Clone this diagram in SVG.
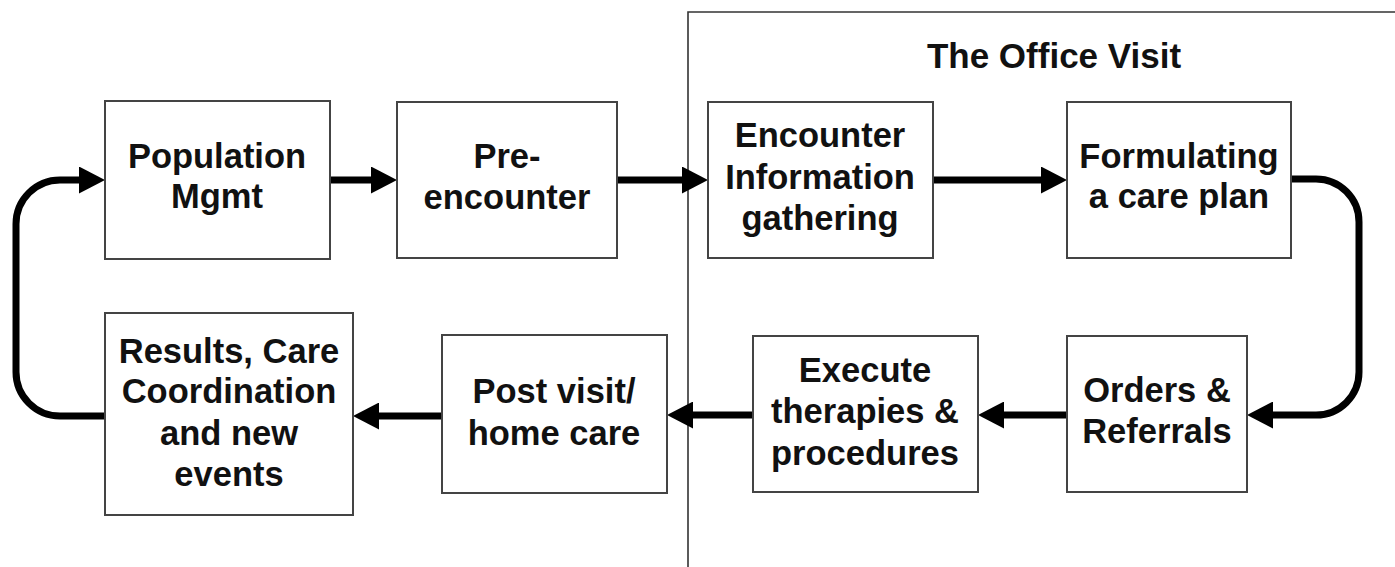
<svg xmlns="http://www.w3.org/2000/svg" width="1395" height="567" viewBox="0 0 1395 567">
  <style>
    .box { fill: #ffffff; stroke: #444444; stroke-width: 2; }
    .lbl { font-family: "Liberation Sans", Arial, sans-serif; font-weight: bold; font-size: 34.5px; fill: #111111; text-anchor: middle; }
    .ttl { font-size: 35px; }
    .conn { fill: none; stroke: #000000; stroke-width: 7; }
    .frame { fill: none; stroke: #333333; stroke-width: 1.6; }
  </style>
  <defs>
    <marker id="arr" viewBox="0 0 26 27" refX="6" refY="13.5" markerWidth="26" markerHeight="27" markerUnits="userSpaceOnUse" orient="auto">
      <path d="M0,0 L26,13.5 L0,27 Z" fill="#000000"/>
    </marker>
  </defs>
  <rect width="1395" height="567" fill="#ffffff"/>

  <g id="office-visit-frame">
    <path class="frame" d="M688,567 V12 H1400"/>
    <text class="lbl ttl" x="1054" y="68">The Office Visit</text>
  </g>

  <g id="connectors">
    <path class="conn" d="M330,180 H377" marker-end="url(#arr)"/>
    <path class="conn" d="M617,180 H688" marker-end="url(#arr)"/>
    <path class="conn" d="M933,180 H1047" marker-end="url(#arr)"/>
    <path class="conn" d="M1291,179 H1316 A43,43 0 0 1 1359,222 V372 A43,43 0 0 1 1316,415 H1267" marker-end="url(#arr)"/>
    <path class="conn" d="M1067,415 H998" marker-end="url(#arr)"/>
    <path class="conn" d="M753,415 H687" marker-end="url(#arr)"/>
    <path class="conn" d="M442,416 H373" marker-end="url(#arr)"/>
    <path class="conn" d="M105,416 H60 A44,44 0 0 1 16,372 V224 A44,44 0 0 1 60,180 H85" marker-end="url(#arr)"/>
  </g>

  <g id="population-mgmt">
    <rect class="box" x="105" y="101" width="225" height="158"/>
    <text class="lbl" x="217" y="168">Population</text>
    <text class="lbl" x="217" y="208">Mgmt</text>
  </g>

  <g id="pre-encounter">
    <rect class="box" x="397" y="102" width="220" height="156"/>
    <text class="lbl" x="507" y="168">Pre-</text>
    <text class="lbl" x="507" y="209">encounter</text>
  </g>

  <g id="encounter-info">
    <rect class="box" x="708" y="102" width="225" height="156"/>
    <text class="lbl" x="820" y="147">Encounter</text>
    <text class="lbl" x="820" y="189">Information</text>
    <text class="lbl" x="820" y="230">gathering</text>
  </g>

  <g id="formulating-plan">
    <rect class="box" x="1067" y="102" width="224" height="156"/>
    <text class="lbl" x="1179" y="168">Formulating</text>
    <text class="lbl" x="1179" y="208">a care plan</text>
  </g>

  <g id="orders-referrals">
    <rect class="box" x="1067" y="336" width="180" height="156"/>
    <text class="lbl" x="1157" y="402">Orders &amp;</text>
    <text class="lbl" x="1157" y="443">Referrals</text>
  </g>

  <g id="execute-therapies">
    <rect class="box" x="753" y="336" width="225" height="156"/>
    <text class="lbl" x="865" y="382">Execute</text>
    <text class="lbl" x="865" y="423">therapies &amp;</text>
    <text class="lbl" x="865" y="465">procedures</text>
  </g>

  <g id="post-visit">
    <rect class="box" x="442" y="335" width="225" height="158"/>
    <text class="lbl" x="554" y="403">Post visit/</text>
    <text class="lbl" x="554" y="445">home care</text>
  </g>

  <g id="results-care">
    <rect class="box" x="105" y="313" width="248" height="202"/>
    <text class="lbl" x="229" y="363">Results, Care</text>
    <text class="lbl" x="229" y="403">Coordination</text>
    <text class="lbl" x="229" y="445">and new</text>
    <text class="lbl" x="229" y="486">events</text>
  </g>
</svg>
